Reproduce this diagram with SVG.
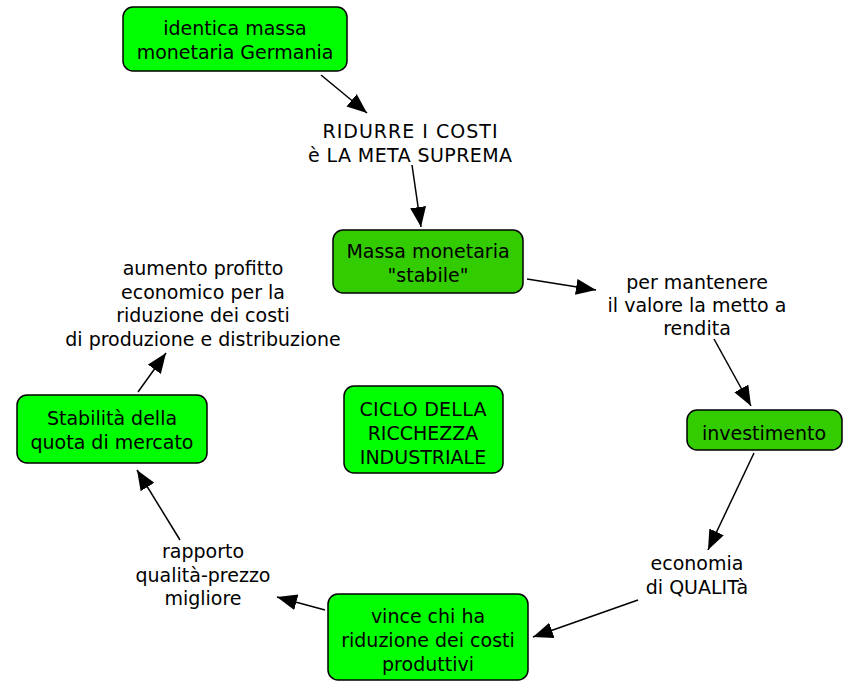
<svg xmlns="http://www.w3.org/2000/svg" width="843" height="682" viewBox="0 0 843 682">
<defs>
<marker id="ah" markerUnits="userSpaceOnUse" markerWidth="22" markerHeight="18" refX="20" refY="8" orient="auto" viewBox="0 0 22 18">
<path d="M0,0 L20,8 L0,16 z" fill="#000"/>
</marker>
</defs>
<style>
.n rect{stroke:#000;stroke-width:1.5}
.a{fill:#00FF00}
.b{fill:#33CC00}
text{font-family:"DejaVu Sans",Verdana,sans-serif;font-size:19px;fill:#000;text-anchor:middle}
.c line{stroke:#000;stroke-width:1.5;marker-end:url(#ah)}
</style>
<rect width="843" height="682" fill="#fff"/>
<g class="c" id="connectors">
<line x1="321" y1="75" x2="367" y2="113"/>
<line x1="412" y1="165" x2="421" y2="227"/>
<line x1="527" y1="279" x2="596" y2="290"/>
<line x1="714" y1="339" x2="751" y2="406"/>
<line x1="754" y1="453" x2="708" y2="550"/>
<line x1="638" y1="600" x2="533" y2="637"/>
<line x1="325" y1="610" x2="277" y2="597"/>
<line x1="180" y1="540" x2="137" y2="470"/>
<line x1="138" y1="392" x2="166" y2="353"/>
</g>
<g class="n" id="n1"><rect class="a" x="123" y="7" width="224" height="64" rx="10"/><text x="235" y="35">identica massa</text><text x="235" y="59">monetaria Germania</text></g>
<g class="n" id="n2"><rect class="b" x="333" y="230" width="190" height="63" rx="10"/><text x="428" y="258">Massa monetaria</text><text x="428" y="282">"stabile"</text></g>
<g class="n" id="n3"><rect class="b" x="687" y="410" width="155" height="40" rx="10"/><text x="764" y="440">investimento</text></g>
<g class="n" id="n4"><rect class="a" x="328" y="594" width="200" height="86" rx="10"/><text x="428" y="623">vince chi ha</text><text x="428" y="647">riduzione dei costi</text><text x="428" y="671">produttivi</text></g>
<g class="n" id="n5"><rect class="a" x="17" y="395" width="190" height="68" rx="10"/><text x="112" y="425">Stabilità della</text><text x="112" y="449">quota di mercato</text></g>
<g class="n" id="n6"><rect class="a" x="344" y="386" width="159" height="87" rx="10"/><text x="423" y="416" textLength="127">CICLO DELLA</text><text x="423" y="440">RICCHEZZA</text><text x="423" y="464">INDUSTRIALE</text></g>
<g id="l1"><text x="410" y="138" textLength="175">RIDURRE I COSTI</text><text x="410" y="162" textLength="204">è LA META SUPREMA</text></g>
<g id="l2"><text x="697" y="289">per mantenere</text><text x="697" y="312">il valore la metto a</text><text x="697" y="335">rendita</text></g>
<g id="l3"><text x="697" y="570">economia</text><text x="697" y="594">di QUALITà</text></g>
<g id="l4"><text x="203" y="558">rapporto</text><text x="203" y="582">qualità-prezzo</text><text x="203" y="605">migliore</text></g>
<g id="l5"><text x="203" y="275">aumento profitto</text><text x="203" y="299">economico per la</text><text x="203" y="322">riduzione dei costi</text><text x="203" y="346">di produzione e distribuzione</text></g>
</svg>
